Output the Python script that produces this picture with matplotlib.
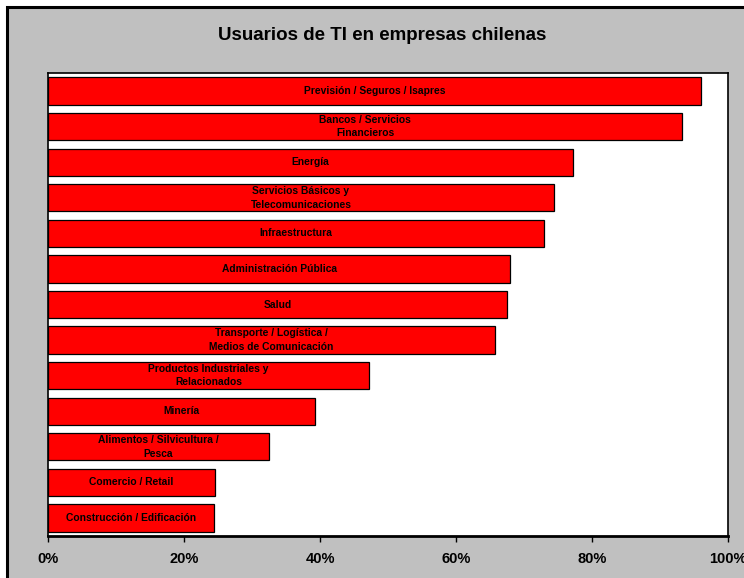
import matplotlib
matplotlib.use("Agg")
import matplotlib.pyplot as plt
from matplotlib.patches import Rectangle

plt.rcParams['font.family'] = ['Liberation Sans', 'DejaVu Sans']

# sectores, de mayor a menor uso
sectores = [
    "Previsión / Seguros / Isapres",
    "Bancos / Servicios\nFinancieros",
    "Energía",
    "Servicios Básicos y\nTelecomunicaciones",
    "Infraestructura",
    "Administración Pública",
    "Salud",
    "Transporte / Logística /\nMedios de Comunicación",
    "Productos Industriales y\nRelacionados",
    "Minería",
    "Alimentos / Silvicultura /\nPesca",
    "Comercio / Retail",
    "Construcción / Edificación",
]
porcentajes = [96.0, 93.3, 77.2, 74.4, 72.9, 68.0, 67.5, 65.7, 47.2, 39.3, 32.5, 24.6, 24.4]
ticks = [0, 20, 40, 60, 80, 100]
tick_labels = ["0%", "20%", "40%", "60%", "80%", "100%"]

W, H = 744, 578
fig = plt.figure(figsize=(W / 100, H / 100), dpi=100, facecolor='white')

# marco gris del grafico
fig.patches.append(Rectangle((7 / W, -0.05), 1.1, 1 - 7 / H + 0.05,
                             transform=fig.transFigure, facecolor='#c0c0c0',
                             edgecolor='black', linewidth=2.2, zorder=-1))

ax = fig.add_axes([48 / W, 1 - 535.7 / H, 680 / W, 462.4 / H])
ax.set_facecolor('white')
ax.set_zorder(1)

pos = list(range(len(sectores)))
ax.barh(pos, porcentajes, height=0.77, color='#ff0000', edgecolor='black',
        linewidth=0.9, zorder=2)

for y, v, s in zip(pos, porcentajes, sectores):
    ax.text(v / 2, y, s, ha='center', va='center', fontsize=7.4,
            fontweight='bold', color='black', linespacing=1.45, zorder=3)

ax.set_xlim(0, 100)
ax.set_ylim(len(sectores) - 0.5, -0.5)
ax.set_yticks([])
ax.set_xticks(ticks)
ax.set_xticklabels(tick_labels, fontsize=10.5, fontweight='bold')
ax.tick_params(axis='x', direction='out', length=4, width=1, pad=8, color='black')

for side in ['left', 'top', 'right']:
    ax.spines[side].set_linewidth(1.2)
ax.spines['bottom'].set_linewidth(2)

fig.text(382 / W, 1 - 35 / H, "Usuarios de TI en empresas chilenas",
         ha='center', va='center', fontsize=13.5, fontweight='bold', zorder=2)

fig.savefig("out.png", dpi=100, facecolor=fig.get_facecolor())
